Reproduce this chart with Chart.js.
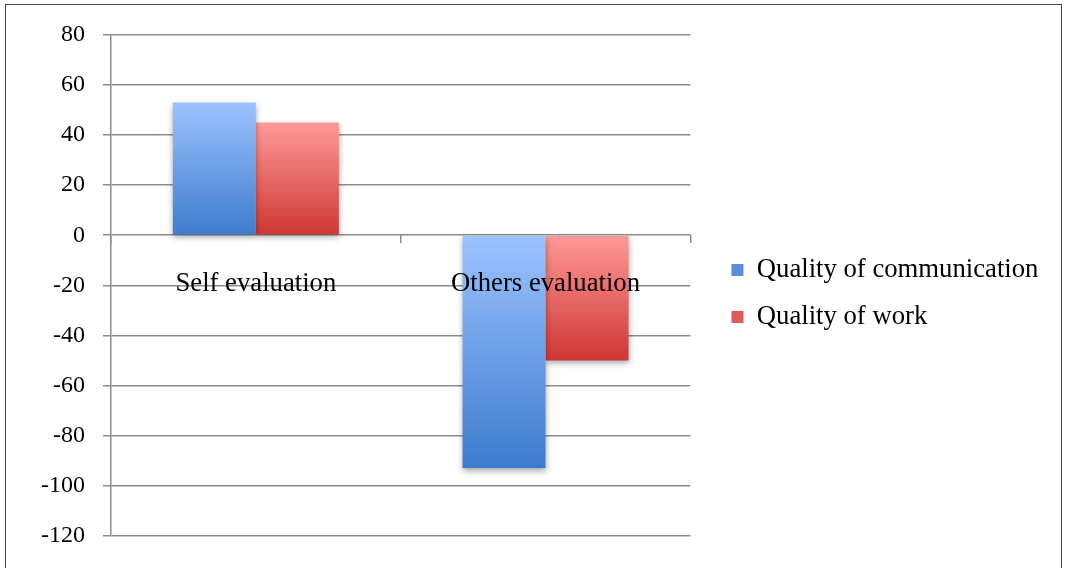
<!DOCTYPE html>
<html><head><meta charset="utf-8">
<script src="https://cdn.jsdelivr.net/npm/chart.js@4"></script>
<style>html,body{margin:0;padding:0;background:#fff;} #wrap{width:1065px;height:568px;position:relative}</style>
</head><body><div id="wrap"><canvas id="c" width="1065" height="568"></canvas></div>
<script>
const categories = ['Self evaluation', 'Others evaluation'];
const seriesNames = ['Quality of communication', 'Quality of work'];
const communication = [53, -93];
const work = [45, -50];
const yMin = -120, yMax = 80, yStep = 20;

const palette = {
  comm: {light: '#9cc3ff', dark: '#3d7ccd', mid: '#5b8fdc'},
  work: {light: '#ff9a98', dark: '#cd3734', mid: '#de5d5a'}
};

function barFill(p) {
  return (c) => {
    const chart = c.chart;
    const {ctx, chartArea, scales} = chart;
    if (!chartArea || c.type !== 'data' || !scales.y) return p.mid;
    const y = scales.y;
    const p0 = y.getPixelForValue(0), p1 = y.getPixelForValue(c.raw);
    const top = Math.min(p0, p1), bot = Math.max(p0, p1);
    if (!isFinite(top) || bot - top < 1) return p.mid;
    const g = ctx.createLinearGradient(0, top, 0, bot);
    g.addColorStop(0, p.light);
    g.addColorStop(1, p.dark);
    return g;
  };
}

const shadowPlugin = {
  id: 'barShadow',
  beforeDatasetsDraw(chart) {
    const ctx = chart.ctx;
    ctx.save();
    ctx.shadowColor = 'rgba(0,0,0,0.35)';
    ctx.shadowBlur = 6;
    ctx.shadowOffsetX = 0;
    ctx.shadowOffsetY = 3;
  },
  afterDatasetsDraw(chart) { chart.ctx.restore(); }
};

const framePlugin = {
  id: 'frame',
  afterDraw(chart) {
    const ctx = chart.ctx;
    ctx.save();
    ctx.strokeStyle = '#444';
    ctx.lineWidth = 1;
    ctx.strokeRect(5.5, 4.5, 1056, 620);
    ctx.restore();
  }
};

const serif = 'Liberation Serif';

new Chart(document.getElementById('c'), {
  type: 'bar',
  data: {
    labels: categories,
    datasets: [
      {label: seriesNames[0], data: communication, backgroundColor: barFill(palette.comm), legendColor: palette.comm.mid},
      {label: seriesNames[1], data: work, backgroundColor: barFill(palette.work), legendColor: palette.work.mid}
    ]
  },
  options: {
    responsive: false,
    animation: false,
    datasets: {bar: {categoryPercentage: 0.573, barPercentage: 1.0}},
    layout: {padding: {top: 35, bottom: 27, left: 0, right: 16.6}},
    plugins: {
      tooltip: {enabled: false},
      legend: {
        position: 'right',
        align: 'center',
        maxWidth: 400,
        title: {display: true, text: '', font: {size: 5, lineHeight: 1}, padding: {top: 6, bottom: 0}},
        labels: {
          boxWidth: 12, boxHeight: 12, padding: 20.3, color: '#000',
          font: {family: serif, size: 26.7},
          generateLabels(chart) {
            return chart.data.datasets.map((ds, i) => ({
              text: ds.label, fillStyle: ds.legendColor, strokeStyle: ds.legendColor,
              lineWidth: 0, hidden: false, datasetIndex: i, fontColor: '#000'
            }));
          }
        }
      }
    },
    scales: {
      x: {
        position: {y: 0},
        z: 1,
        offset: true,
        ticks: {z: 1, color: '#000', font: {family: serif, size: 26.7}, padding: 25, maxRotation: 0, autoSkip: false},
        grid: {display: true, drawOnChartArea: false, drawTicks: true, tickLength: 8, color: '#8c8c8c', lineWidth: 1.5, offset: true},
        border: {display: false}
      },
      y: {
        min: yMin, max: yMax,
        ticks: {stepSize: yStep, color: '#000', font: {family: serif, size: 24}, padding: 18},
        grid: {color: '#8c8c8c', lineWidth: 1.5, tickLength: 8, drawTicks: true},
        border: {display: true, color: '#8c8c8c', width: 1.5},
        afterFit(s) { s.width = 111; }
      },
      gap: {
        position: 'right', display: true,
        grid: {display: false}, ticks: {display: false}, border: {display: false},
        afterFit(s) { s.width = 20.7; }
      }
    }
  },
  plugins: [shadowPlugin, framePlugin]
});
</script>
</body></html>
